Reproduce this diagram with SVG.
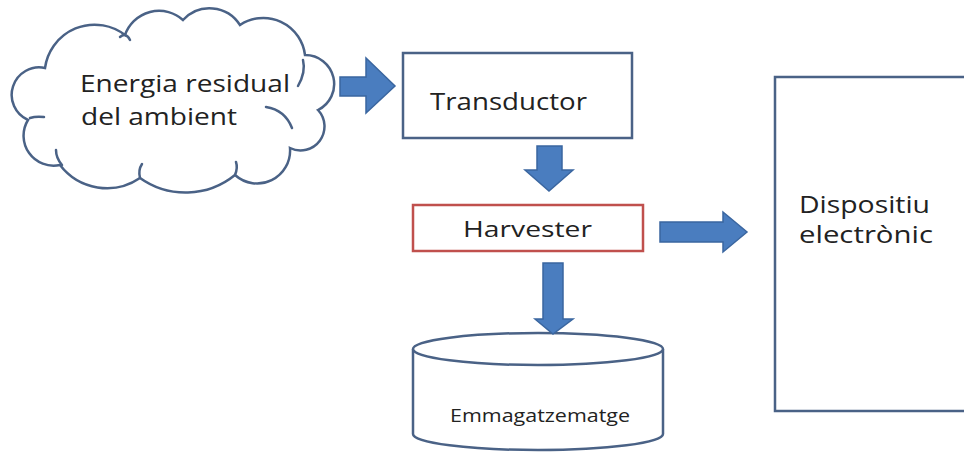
<svg xmlns="http://www.w3.org/2000/svg" width="964" height="460" viewBox="0 0 964 460">
  <style>
    .outline { fill: #ffffff; stroke: #4a6286; stroke-width: 2.5; }
    .curl { fill: none; stroke: #4a6286; stroke-width: 2.5; stroke-linecap: round; }
    .red { fill: #ffffff; stroke: #c0504d; stroke-width: 2.5; }
    .arrow { fill: #4a7dbf; stroke: #3a66a0; stroke-width: 1.5; stroke-linejoin: miter; }
    .label { font-family: "Open Sans", "Noto Sans", sans-serif; fill: #222222; }
  </style>
  <rect width="964" height="460" fill="#ffffff"/>

  <!-- Source cloud -->
  <g id="energia">
    <path class="outline" d="M 28 120 A 27.5 27.5 0 0 1 45 68 A 50 50 0 0 1 125 35 A 36 36 0 0 1 183 20 A 36 36 0 0 1 240 25 A 42 42 0 0 1 305 55 A 29 29 0 0 1 318 110 A 24 24 0 0 1 290 148 A 33 33 0 0 1 235 175 A 78.5 78.5 0 0 1 140 178 A 59 59 0 0 1 60 165 A 30 30 0 0 1 28 120 Z"/>
    <path class="curl" d="M 120 37 Q 126 32 130 40"/>
    <path class="curl" d="M 303 60 Q 306 72 298 86"/>
    <path class="curl" d="M 266 107 Q 285 110 292 128"/>
    <path class="curl" d="M 62 165 Q 56 158 56 150"/>
    <path class="curl" d="M 140 178 Q 138 170 142 164"/>
    <path class="curl" d="M 30 118 Q 36 116 44 117"/>
    <path class="curl" d="M 235 175 Q 238 168 236 162"/>
    <text class="label" x="80" y="92" font-size="24" textLength="210" lengthAdjust="spacingAndGlyphs">Energia residual</text>
    <text class="label" x="81" y="125" font-size="24" textLength="156" lengthAdjust="spacingAndGlyphs">del ambient</text>
  </g>

  <g id="transductor">
    <rect class="outline" x="403" y="53" width="229" height="85"/>
    <text class="label" x="430" y="110" font-size="24" textLength="157" lengthAdjust="spacingAndGlyphs">Transductor</text>
  </g>

  <g id="harvester">
    <rect class="red" x="413" y="205" width="230" height="46"/>
    <text class="label" x="463" y="237" font-size="22" textLength="129" lengthAdjust="spacingAndGlyphs">Harvester</text>
  </g>

  <g id="dispositiu">
    <rect class="outline" x="775" y="77" width="200" height="334"/>
    <text class="label" x="799" y="213" font-size="23" textLength="131" lengthAdjust="spacingAndGlyphs">Dispositiu</text>
    <text class="label" x="799" y="243" font-size="23" textLength="134" lengthAdjust="spacingAndGlyphs">electrònic</text>
  </g>

  <g id="emmagatzematge">
    <path class="outline" d="M 413 349 L 413 434 A 125 16 0 0 0 663 434 L 663 349"/>
    <ellipse class="outline" cx="538" cy="349" rx="125" ry="16"/>
    <text class="label" x="450" y="422" font-size="18" textLength="180" lengthAdjust="spacingAndGlyphs">Emmagatzematge</text>
  </g>

  <!-- Block arrows between stages -->
  <g id="connectors">
    <path class="arrow" d="M 340 77 L 366 77 L 366 58 L 395 86 L 366 113 L 366 96 L 340 96 Z"/>
    <path class="arrow" d="M 537 146 L 562 146 L 562 170 L 573 170 L 549 191 L 525 170 L 537 170 Z"/>
    <path class="arrow" d="M 660 222 L 723 222 L 723 212 L 747 232 L 723 252 L 723 242 L 660 242 Z"/>
    <path class="arrow" d="M 543 263 L 563 263 L 563 319 L 573 319 L 553 334 L 535 319 L 543 319 Z"/>
  </g>
</svg>
